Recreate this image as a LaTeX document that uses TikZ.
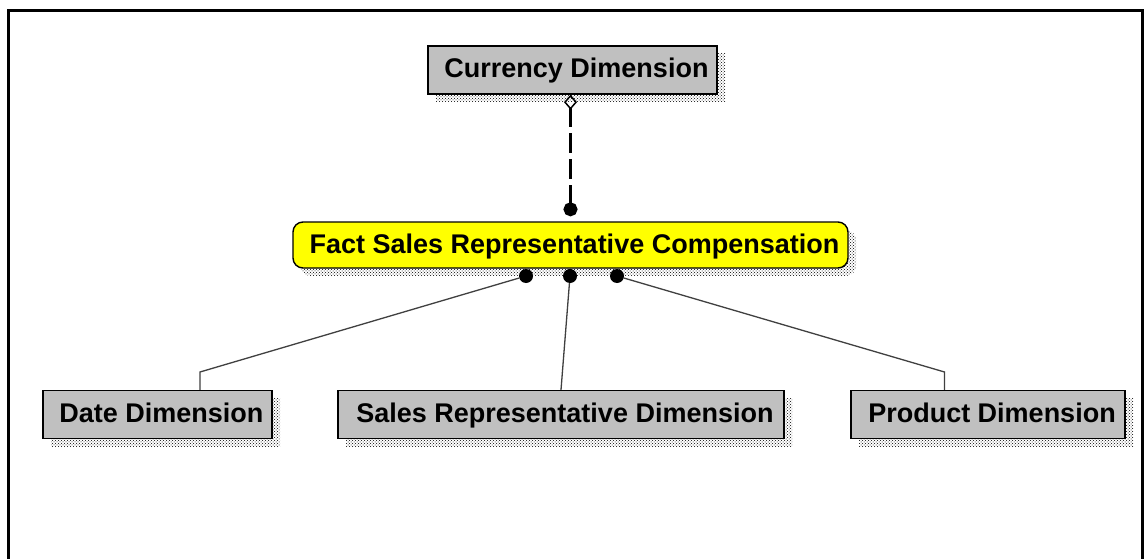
\documentclass[tikz,border=0pt]{standalone}
\usepackage{fontspec}
\setmainfont{Liberation Sans}
\usetikzlibrary{arrows.meta,patterns,shadows}

\definecolor{boxgray}{HTML}{C0C0C0}
\definecolor{factyellow}{HTML}{FFFF00}
\definecolor{linkgray}{HTML}{404040}

\tikzset{
  hatchshadow/.style={general shadow={shadow xshift=8pt, shadow yshift=-8pt,
      pattern=crosshatch dots, pattern color=black}},
  entity/.style={draw=black, line width=1.4pt, inner sep=0pt, hatchshadow,
      font=\bfseries\fontsize{27}{30}\selectfont,
      text height=20pt, text depth=4pt,
      execute at begin node=\hspace*{8pt}},
  dimbox/.style={entity, fill=boxgray, minimum height=48pt},
  factbox/.style={entity, fill=factyellow, rounded corners=10pt, minimum height=46pt},
  dot/.style={circle, fill=black, inner sep=0pt, minimum size=14pt},
  link/.style={draw=linkgray, line width=1.3pt},
  optlink/.style={draw=black, line width=3pt, dash pattern=on 20pt off 6pt,
      {Diamond[open,length=15pt,width=13pt,line width=1.5pt]}-{Circle[length=14pt]},
      shorten >=5pt},
  frame/.style={draw=black, line width=3pt}
}

\begin{document}
\begin{tikzpicture}[x=1pt,y=-1pt]
  \useasboundingbox (0,0) rectangle (1145,559);
  \fill[white] (0,0) rectangle (1145,559);

  % outer frame (bottom edge lies below the page)
  \draw[frame] (8,570) -- (8,11) -- (1142.5,11) -- (1142.5,570);

  % entities
  \node[dimbox, minimum width=289pt] (cur)  at (572.5,70)  {Currency Dimension};
  \node[factbox, minimum width=555pt] (fact) at (570.5,245) {Fact Sales Representative Compensation};
  \node[dimbox, minimum width=229pt] (date)  at (157.5,414.5) {Date Dimension};
  \node[dimbox, minimum width=446pt] (sales) at (561,414.5)   {Sales Representative Dimension};
  \node[dimbox, minimum width=274pt] (prod)  at (988,414.5)   {Product Dimension};

  % optional relationship to the currency dimension
  \draw[optlink] (cur.south -| fact.north) -- (fact.north);

  % identifying relationships to the other dimensions
  \node[dot] (p1) at (526,276) {};
  \node[dot] (p2) at (570,276) {};
  \node[dot] (p3) at (617,276) {};
  \coordinate (b1) at (200,372);
  \coordinate (b3) at (944.5,372);

  \draw[link] (p1) -- (b1) -- (date.north -| b1);
  \draw[link] (p2) -- (sales.north);
  \draw[link] (p3) -- (b3) -- (prod.north -| b3);
\end{tikzpicture}
\end{document}
